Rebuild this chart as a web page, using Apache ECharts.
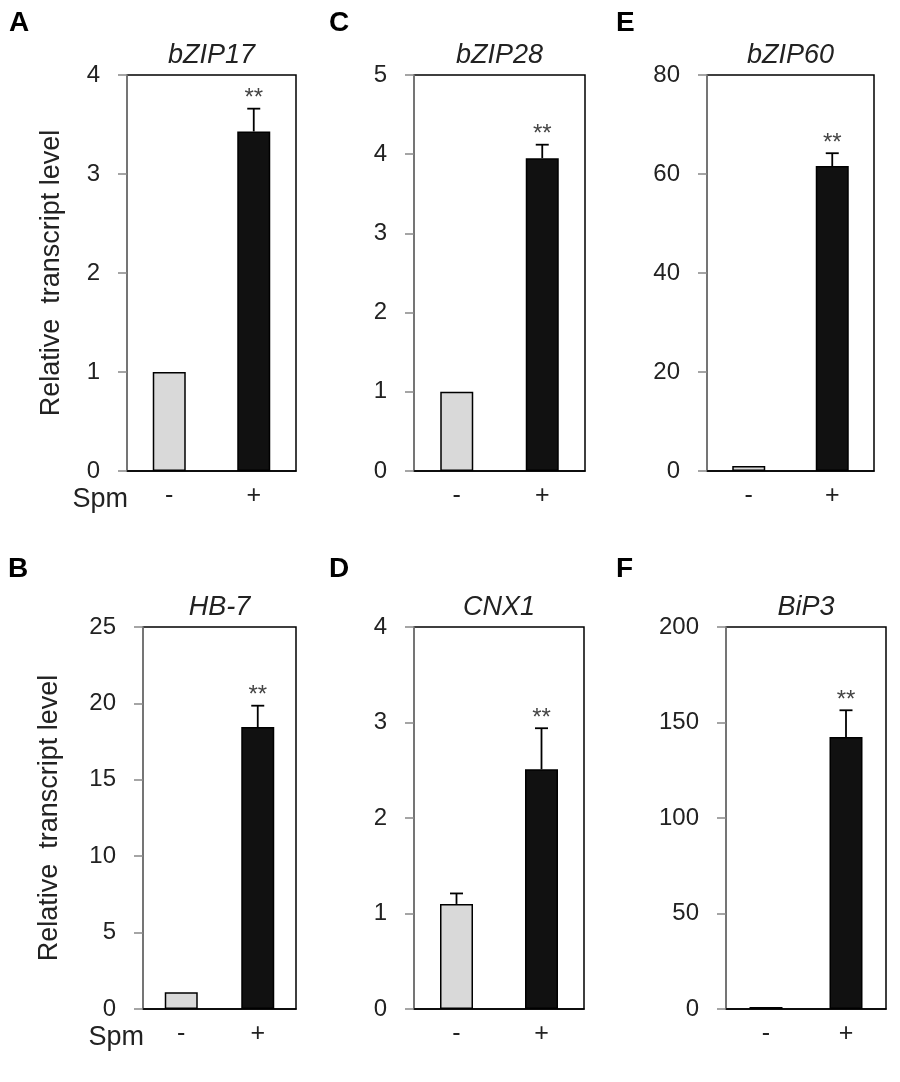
<!DOCTYPE html>
<html>
<head>
<meta charset="utf-8">
<script src="https://cdn.jsdelivr.net/npm/echarts@6/dist/echarts.min.js"></script>
<style>
html,body{margin:0;padding:0;background:#fff;}
#chart{width:900px;height:1082px;}
</style>
</head>
<body>
<div id="chart"></div>
<script>
// ---- data ----
const categories = ['-', '+'];
const sigLabels = ['', '**'];
const panelLetters = ['A', 'B', 'C', 'D', 'E', 'F'];
const geneNames = ['bZIP17', 'HB-7', 'bZIP28', 'CNX1', 'bZIP60', 'BiP3'];
const meanA = [1.0, 3.43];   const errA = [0, 0.23];
const meanB = [1.1, 18.45];  const errB = [0, 1.4];
const meanC = [1.0, 3.95];   const errC = [0, 0.17];
const meanD = [1.1, 2.51];   const errD = [0.11, 0.43];
const meanE = [1.0, 61.6];   const errE = [0, 2.6];
const meanF = [1.0, 142.4];  const errF = [0, 14];
const yMax = [4, 25, 5, 4, 80, 200];
const yInterval = [1, 5, 1, 1, 20, 50];
const yAxisName = 'Relative  transcript level';
const xAxisLead = 'Spm';

const means = [meanA, meanB, meanC, meanD, meanE, meanF];
const errs = [errA, errB, errC, errD, errE, errF];

// ---- layout (pixels) ----
const grids = [
  {left: 127, top: 75, width: 169, height: 396},
  {left: 143, top: 627, width: 153, height: 382},
  {left: 414, top: 75, width: 171, height: 396},
  {left: 414, top: 627, width: 170, height: 382},
  {left: 707, top: 75, width: 167, height: 396},
  {left: 726, top: 627, width: 160, height: 382}
];
const letterPos = [[9, 9], [8, 555], [329, 9], [329, 555], [616, 9], [616, 555]];
const yNameGap = [62, 80, 0, 0, 0, 0];
const barColors = ['#d9d9d9', '#111111'];
const FONT = "'Liberation Sans', Arial, sans-serif";

const chart = echarts.init(document.getElementById('chart'), null, {renderer: 'canvas'});

const option = {
  backgroundColor: '#fff',
  animation: false,
  title: [],
  grid: [],
  xAxis: [],
  yAxis: [],
  series: []
};

for (let i = 0; i < 6; i++) {
  const g = grids[i];
  option.grid.push({
    left: g.left, top: g.top, width: g.width, height: g.height,
    show: true, borderColor: '#000', borderWidth: 1.5, backgroundColor: 'transparent',
    containLabel: false
  });
  option.xAxis.push({
    type: 'category', gridIndex: i, data: categories,
    axisLine: {show: true, lineStyle: {color: '#000', width: 1.5}},
    axisTick: {show: false},
    axisLabel: {fontSize: 25, color: '#222', margin: 13, fontFamily: FONT},
    splitLine: {show: false}
  });
  option.yAxis.push({
    type: 'value', gridIndex: i, min: 0, max: yMax[i], interval: yInterval[i],
    name: i < 2 ? yAxisName : '',
    nameLocation: 'middle', nameGap: yNameGap[i],
    nameTextStyle: {fontSize: 27, color: '#222', fontFamily: FONT},
    axisLine: {show: true, lineStyle: {color: '#888', width: 1.5}},
    axisTick: {show: true, inside: false, length: 9, lineStyle: {color: '#888', width: 1.5}},
    axisLabel: {fontSize: 24, color: '#222', margin: 27, fontFamily: FONT, padding: [7, 0, 0, 0]},
    splitLine: {show: false}
  });
  // panel letter
  option.title.push({
    text: panelLetters[i], left: letterPos[i][0], top: letterPos[i][1], padding: 0,
    textStyle: {fontSize: 28, fontWeight: 'bold', color: '#000', fontFamily: FONT}
  });
  // gene name
  option.title.push({
    text: geneNames[i], left: g.left + g.width / 2, top: g.top - 33, padding: 0,
    textAlign: 'center',
    textStyle: {fontSize: 27, fontStyle: 'italic', fontWeight: 'normal', color: '#222', fontFamily: FONT}
  });
  if (i < 2) {
    option.title.push({
      text: xAxisLead, left: g.left + 1, top: g.top + g.height + 15, padding: 0,
      textAlign: 'right',
      textStyle: {fontSize: 27, fontWeight: 'normal', color: '#222', fontFamily: FONT}
    });
  }
  option.series.push({
    type: 'bar', xAxisIndex: i, yAxisIndex: i, barWidth: 33,
    data: means[i].map((v, k) => ({value: v, itemStyle: {color: barColors[k]}})),
    itemStyle: {borderColor: '#000', borderWidth: 1.5},
    z: 2
  });
  const errData = means[i].map((v, k) => [k, v, errs[i][k]]);
  option.series.push({
    type: 'custom', xAxisIndex: i, yAxisIndex: i, z: 3,
    data: errData,
    encode: {x: 0, y: 1},
    renderItem: function (params, api) {
      const k = api.value(0), m = api.value(1), e = api.value(2);
      const base = api.coord([k, m]);
      const top = api.coord([k, m + e]);
      const children = [];
      if (e > 0) {
        children.push({type: 'line', shape: {x1: top[0], y1: base[1], x2: top[0], y2: top[1]},
          style: {stroke: '#000', lineWidth: 1.8}});
        children.push({type: 'line', shape: {x1: top[0] - 6.5, y1: top[1], x2: top[0] + 6.5, y2: top[1]},
          style: {stroke: '#000', lineWidth: 1.8}});
      }
      const s = sigLabels[params.dataIndex];
      if (s) {
        children.push({type: 'text', x: top[0], y: top[1] + 2,
          style: {text: s, fill: '#444', font: '24px ' + FONT, textAlign: 'center', textVerticalAlign: 'bottom'}});
      }
      return {type: 'group', children: children};
    }
  });
}

chart.setOption(option);
</script>
</body>
</html>
